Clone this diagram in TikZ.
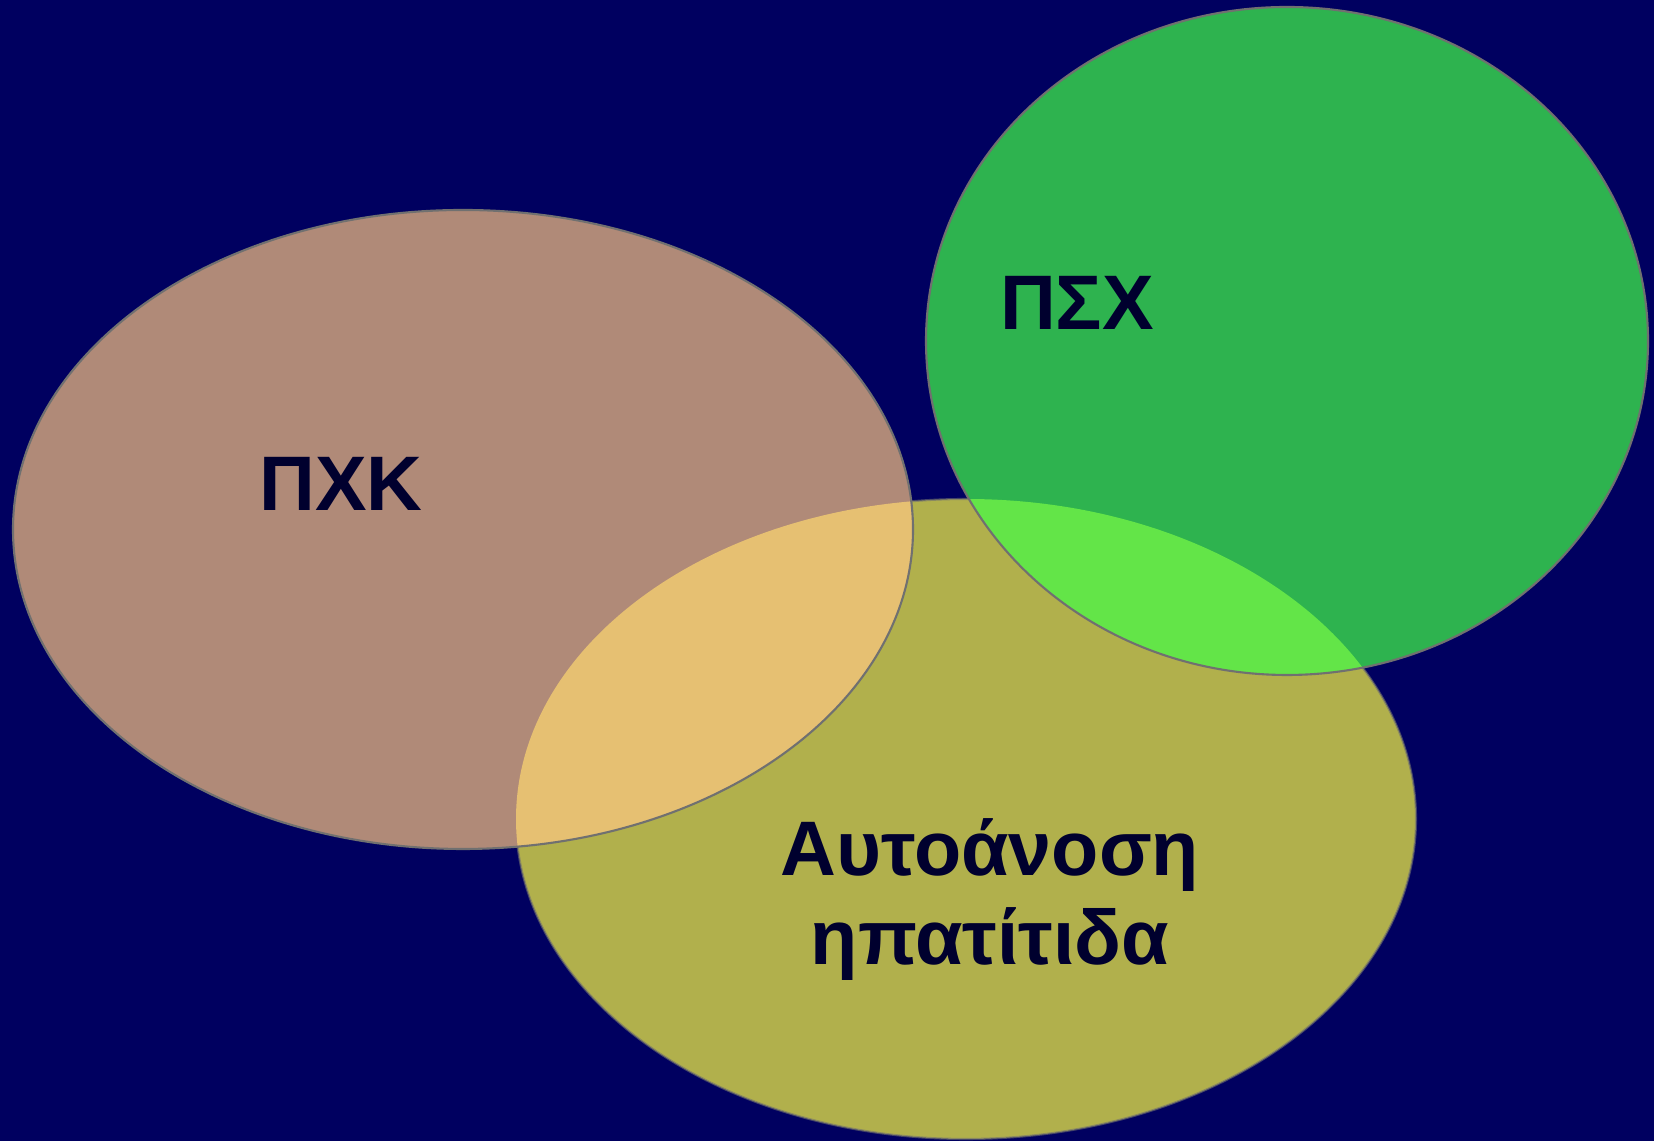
\documentclass[tikz,border=0pt]{standalone}
\usepackage{fontspec}
\setmainfont{Liberation Sans}
\usepackage{tikz}
\definecolor{bgnavy}{HTML}{000060}
\definecolor{pxkbrown}{HTML}{B08A78}
\definecolor{psxgreen}{HTML}{2EB34F}
\definecolor{autoolive}{HTML}{B1B04C}
\definecolor{mixpeach}{HTML}{E6C072}
\definecolor{mixlime}{HTML}{63E548}
\definecolor{rimgray}{HTML}{707070}
\definecolor{labelink}{HTML}{00002E}

\begin{document}
\begin{tikzpicture}[
    setlabel/.style={font=\fontsize{22}{25.5}\selectfont\bfseries, text=labelink, align=center, inner sep=0pt},
    rim/.style={draw=rimgray, line width=0.6pt}
  ]
  % Fondo
  \fill[bgnavy] (0,0) rectangle (16.54,11.41);

  % Conjuntos
  \fill[autoolive] (9.66,3.22) ellipse (4.50 and 3.20);
  \draw[rim, draw opacity=0.6] (9.66,3.22) ellipse (4.50 and 3.20);
  \fill[pxkbrown] (4.63,6.115) ellipse (4.50 and 3.195);
  \fill[psxgreen] (12.87,8.00) ellipse (3.61 and 3.34);

  % Intersecciones
  \begin{scope}
    \clip (9.66,3.22) ellipse (4.50 and 3.20);
    \fill[mixpeach] (4.63,6.115) ellipse (4.50 and 3.195);
    \fill[mixlime] (12.87,8.00) ellipse (3.61 and 3.34);
  \end{scope}

  % Bordes
  \draw[rim] (4.63,6.115) ellipse (4.50 and 3.195);
  \draw[rim] (12.87,8.00) ellipse (3.61 and 3.34);

  % Rótulos
  \node[setlabel] (pxk) at (3.41,6.57) {ΠΧΚ};
  \node[setlabel] (psx) at (10.77,8.38) {ΠΣΧ};
  \node[setlabel] (auto) at (9.90,2.415) {Αυτοάνοση\\ηπατίτιδα};
\end{tikzpicture}
\end{document}
